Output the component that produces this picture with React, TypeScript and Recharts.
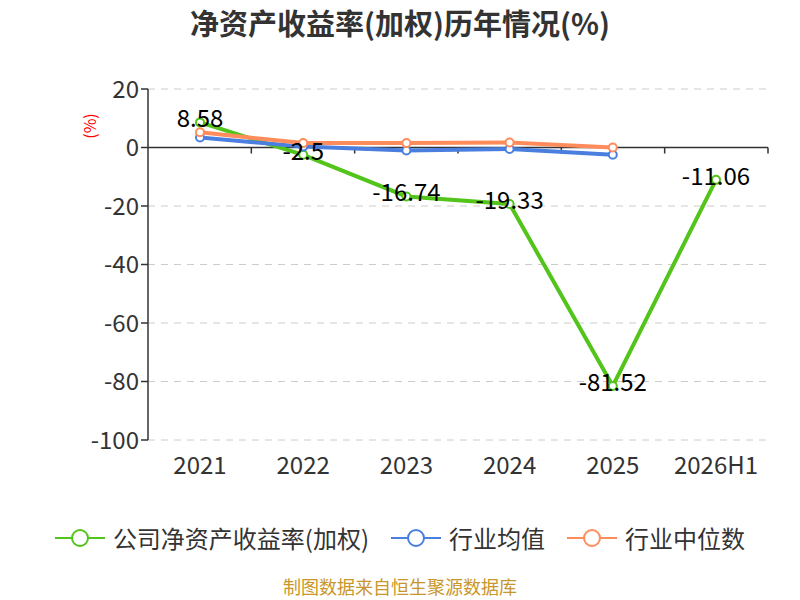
import React from 'react';
import {
  LineChart, Line, XAxis, YAxis, CartesianGrid, ReferenceLine, LabelList,
} from 'recharts';

const years = ['2021', '2022', '2023', '2024', '2025', '2026H1'];
const companyRoe = [8.58, -2.5, -16.74, -19.33, -81.52, -11.06];
const industryMean = [3.4, 0.3, -1.0, -0.5, -2.5, null];
const industryMedian = [5.2, 1.5, 1.5, 1.7, 0.0, null];
const yTicks = [-100, -80, -60, -40, -20, 0, 20];

const seriesNames = ['公司净资产收益率(加权)', '行业均值', '行业中位数'];
const seriesColors = ['#52c41a', '#4a7fe0', '#ff8c5a'];

const data = years.map((year, i) => ({
  year,
  company: companyRoe[i],
  mean: industryMean[i],
  median: industryMedian[i],
}));

const FONT = '"Microsoft YaHei", "Noto Sans CJK SC", "Noto Sans", sans-serif';

// zero line with the category ticks hanging below it
const ZeroLine = (props: any) => {
  const { x1, y1, x2, y2 } = props;
  const step = (x2 - x1) / years.length;
  return (
    <g>
      <line x1={x1} y1={y1} x2={x2} y2={y2} stroke="#333" strokeWidth={1.5} />
      {years.map((_, i) => (
        <line key={i} x1={x1 + step * (i + 1)} y1={y1} x2={x1 + step * (i + 1)} y2={y1 + 6} stroke="#333" strokeWidth={1.5} />
      ))}
    </g>
  );
};

const valueLabel = (props: any) => {
  const { x, y, value } = props;
  if (value == null) return null;
  return (
    <text x={x} y={y + 5} textAnchor="middle" fontSize={24} fill="#000" fontFamily={FONT}>
      {value}
    </text>
  );
};

const LegendBar = () => (
  <div style={{ position: 'absolute', top: 520, width: 800, display: 'flex', justifyContent: 'center', gap: 22, fontSize: 24, color: '#333' }}>
    {seriesNames.map((name, i) => (
      <div key={name} style={{ display: 'flex', alignItems: 'center' }}>
        <svg width={50} height={22} style={{ marginRight: 8 }}>
          <line x1={0} y1={11} x2={50} y2={11} stroke={seriesColors[i]} strokeWidth={2} />
          <circle cx={25} cy={11} r={8} fill="#fff" stroke={seriesColors[i]} strokeWidth={2} />
        </svg>
        <span>{name}</span>
      </div>
    ))}
  </div>
);

export default function App() {
  return (
    <div style={{ position: 'absolute', left: 0, top: 0, width: 800, height: 600, background: '#fff', fontFamily: FONT, overflow: 'hidden' }}>
      <div style={{ position: 'absolute', top: 1, width: 800, textAlign: 'center', fontSize: 29, fontWeight: 'bold', color: '#333' }}>
        净资产收益率(加权)历年情况(%)
      </div>
      <div style={{ position: 'absolute', left: 76, top: 114, color: 'red', fontSize: 16, transform: 'rotate(-90deg)' }}>
        (%)
      </div>
      <LineChart width={800} height={600} data={data} margin={{ top: 89, right: 32, bottom: 130, left: 88 }}>
        <CartesianGrid vertical={false} stroke="#ccc" strokeDasharray="7 6" />
        <XAxis
          dataKey="year"
          axisLine={false}
          tickLine={false}
          height={30}
          padding={{ left: 52, right: 52 }}
          interval={0}
          tick={{ fontSize: 24, fill: '#333', fontFamily: FONT }}
          dy={9}
        />
        <YAxis
          domain={[-100, 20]}
          ticks={yTicks}
          width={60}
          interval={0}
          axisLine={{ stroke: '#333', strokeWidth: 1.5 }}
          tickLine={{ stroke: '#333', strokeWidth: 1.5 }}
          tickSize={7}
          tick={{ fontSize: 24, fill: '#333', fontFamily: FONT }}
        />
        <ReferenceLine y={0} shape={ZeroLine} />
        <Line
          name={seriesNames[0]}
          dataKey="company"
          stroke={seriesColors[0]}
          strokeWidth={4}
          dot={{ r: 4, fill: '#fff', stroke: seriesColors[0], strokeWidth: 2 }}
          isAnimationActive={false}
        >
          <LabelList dataKey="company" content={valueLabel} />
        </Line>
        <Line
          name={seriesNames[1]}
          dataKey="mean"
          stroke={seriesColors[1]}
          strokeWidth={4}
          dot={{ r: 4, fill: '#fff', stroke: seriesColors[1], strokeWidth: 2 }}
          isAnimationActive={false}
        />
        <Line
          name={seriesNames[2]}
          dataKey="median"
          stroke={seriesColors[2]}
          strokeWidth={4}
          dot={{ r: 4, fill: '#fff', stroke: seriesColors[2], strokeWidth: 2 }}
          isAnimationActive={false}
        />
      </LineChart>
      <LegendBar />
      <div style={{ position: 'absolute', top: 576, width: 800, textAlign: 'center', fontSize: 18, lineHeight: '20px', color: '#c8962a' }}>
        制图数据来自恒生聚源数据库
      </div>
    </div>
  );
}
